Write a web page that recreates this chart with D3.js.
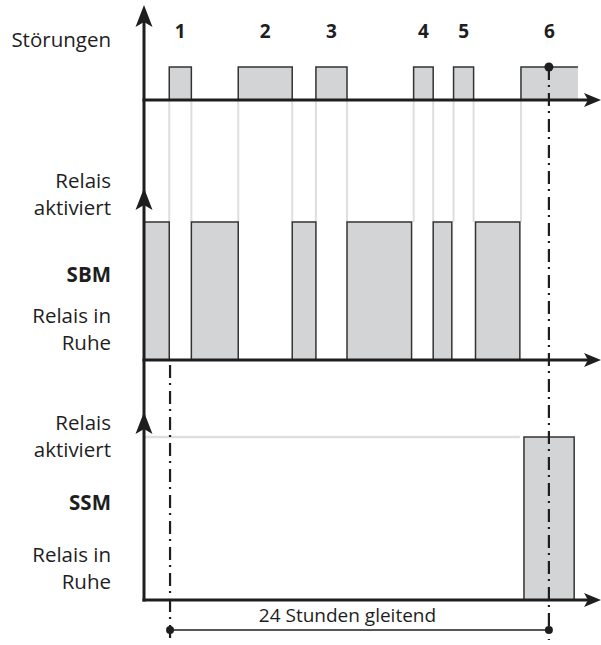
<!DOCTYPE html>
<html>
<head>
<meta charset="utf-8">
<script src="https://cdn.jsdelivr.net/npm/d3@7"></script>
<style>
  body { margin: 0; background: #fff; }
  text { font-family: 'Open Sans', sans-serif; fill: #1e1e1e; }
</style>
</head>
<body>
<div id="chart"></div>
<script>
// time axis in arbitrary units (hours-ish), 0 = y axis
const stoerungen = [
  { id: '1', start: 1.6, end: 3.0 },
  { id: '2', start: 5.97, end: 9.39 },
  { id: '3', start: 10.89, end: 12.86 },
  { id: '4', start: 17.08, end: 18.32 },
  { id: '5', start: 19.61, end: 20.88 },
  { id: '6', start: 23.88, end: 27.49 }
]
const sbmActive = [
  [0, 1.6], [3.0, 5.97], [9.39, 10.89], [12.86, 16.95], [18.32, 19.5], [21.0, 23.81]
]
const ssmActive = [[24.07, 27.25]]
const ssmIdleLine = [0, 23.81]
const window24 = [1.65, 25.65]
const windowLabel = '24 Stunden gleitend'

const panelLabels = [
  { lines: ['Störungen'], y: 47, bold: false },
  { lines: ['Relais', 'aktiviert'], y: 188, bold: false },
  { lines: ['SBM'], y: 282, bold: true },
  { lines: ['Relais in', 'Ruhe'], y: 323, bold: false },
  { lines: ['Relais', 'aktiviert'], y: 430, bold: false },
  { lines: ['SSM'], y: 510, bold: true },
  { lines: ['Relais in', 'Ruhe'], y: 562, bold: false }
]

const width = 601
const height = 645

const svg = d3
  .select('#chart')
  .append('svg')
  .attr('width', width)
  .attr('height', height)

const x = d3.scaleLinear().domain([0, 28]).range([144, 586])

// each panel: level 0 -> baseline, level 1 -> top of the boxes
const yTop = d3.scaleLinear().domain([0, 1]).range([100, 67])
const ySbm = d3.scaleLinear().domain([0, 1]).range([360, 222])
const ySsm = d3.scaleLinear().domain([0, 1]).range([600, 437])

const dark = '#1e1e1e'
const fill = '#d3d4d6'
const connector = '#dedede'

// light connectors from disturbance edges to SBM boxes
const edges = []
stoerungen.forEach(function(d, i) {
  edges.push(d.start)
  if (i < stoerungen.length - 1) edges.push(d.end)
})
svg
  .selectAll('.conn')
  .data(edges)
  .enter()
  .append('line')
  .attr('class', 'conn')
  .attr('x1', d => x(d))
  .attr('x2', d => x(d))
  .attr('y1', yTop(0))
  .attr('y2', ySbm(1))
  .attr('stroke', connector)
  .attr('stroke-width', 2)

// SSM idle gray line
svg
  .append('line')
  .attr('x1', x(ssmIdleLine[0]))
  .attr('x2', x(ssmIdleLine[1]))
  .attr('y1', ySsm(1))
  .attr('y2', ySsm(1))
  .attr('stroke', connector)
  .attr('stroke-width', 2.5)

// disturbance boxes (open at bottom, last one without right border)
stoerungen.forEach(function(d, i) {
  svg
    .append('rect')
    .attr('x', x(d.start))
    .attr('y', yTop(1))
    .attr('width', x(d.end) - x(d.start))
    .attr('height', yTop(0) - yTop(1))
    .attr('fill', fill)
  const last = i === stoerungen.length - 1
  const p = d3.path()
  p.moveTo(x(d.start), yTop(0))
  p.lineTo(x(d.start), yTop(1))
  p.lineTo(x(d.end), yTop(1))
  if (!last) p.lineTo(x(d.end), yTop(0))
  svg
    .append('path')
    .attr('d', p.toString())
    .attr('fill', 'none')
    .attr('stroke', '#333')
    .attr('stroke-width', 1.5)
  svg
    .append('text')
    .attr('x', x((d.start + d.end) / 2))
    .attr('y', 38)
    .attr('text-anchor', 'middle')
    .attr('font-weight', 'bold')
    .attr('font-size', 19)
    .text(d.id)
})

function drawBoxes(data, y) {
  svg
    .append('g')
    .selectAll('rect')
    .data(data)
    .enter()
    .append('rect')
    .attr('x', d => x(d[0]))
    .attr('y', y(1))
    .attr('width', d => x(d[1]) - x(d[0]))
    .attr('height', y(0) - y(1))
    .attr('fill', fill)
    .attr('stroke', '#333')
    .attr('stroke-width', 1.5)
}
drawBoxes(sbmActive, ySbm)
drawBoxes(ssmActive, ySsm)

// dash-dot lines marking the window
const dashDot = '13,5,2,6'
svg
  .append('line')
  .attr('x1', x(window24[0]))
  .attr('x2', x(window24[0]))
  .attr('y1', ySbm(0) + 5)
  .attr('y2', 640)
  .attr('stroke', dark)
  .attr('stroke-width', 2.2)
  .attr('stroke-dasharray', dashDot)
svg
  .append('line')
  .attr('x1', x(window24[1]))
  .attr('x2', x(window24[1]))
  .attr('y1', yTop(1))
  .attr('y2', 640)
  .attr('stroke', dark)
  .attr('stroke-width', 2.2)
  .attr('stroke-dasharray', dashDot)

// window bracket
svg
  .append('line')
  .attr('x1', x(window24[0]))
  .attr('x2', x(window24[1]))
  .attr('y1', 630)
  .attr('y2', 630)
  .attr('stroke', dark)
  .attr('stroke-width', 1.5)
svg
  .selectAll('.wdot')
  .data(window24)
  .enter()
  .append('circle')
  .attr('cx', d => x(d))
  .attr('cy', 630)
  .attr('r', 4)
  .attr('fill', dark)
svg
  .append('circle')
  .attr('cx', x(window24[1]))
  .attr('cy', yTop(1))
  .attr('r', 4.5)
  .attr('fill', dark)
svg
  .append('text')
  .attr('x', x((window24[0] + window24[1]) / 2) - 12)
  .attr('y', 622)
  .attr('text-anchor', 'middle')
  .attr('font-size', 19)
  .text(windowLabel)

// axes
const ax = x(0)
svg
  .append('line')
  .attr('x1', ax)
  .attr('x2', ax)
  .attr('y1', 20)
  .attr('y2', ySsm(0) + 1.5)
  .attr('stroke', dark)
  .attr('stroke-width', 3)

;[yTop, ySbm, ySsm].forEach(function(y) {
  svg
    .append('line')
    .attr('x1', ax - 1.5)
    .attr('x2', 590)
    .attr('y1', y(0))
    .attr('y2', y(0))
    .attr('stroke', dark)
    .attr('stroke-width', 3)
  // right arrowhead
  const y0 = y(0)
  svg
    .append('path')
    .attr('d', `M601,${y0} L584,${y0 - 7} L588,${y0} L584,${y0 + 7} Z`)
    .attr('fill', dark)
})

// up arrowheads on the y axis
;[5, 188, 412].forEach(function(tip) {
  svg
    .append('path')
    .attr('d', `M${ax},${tip} L${ax + 8.5},${tip + 22} L${ax},${tip + 17} L${ax - 8.5},${tip + 22} Z`)
    .attr('fill', dark)
})

// left labels
panelLabels.forEach(function(l) {
  const t = svg
    .append('text')
    .attr('x', 111)
    .attr('y', l.y)
    .attr('text-anchor', 'end')
    .attr('font-size', 20.5)
    .attr('font-weight', l.bold ? 'bold' : 'normal')
  l.lines.forEach(function(s, i) {
    t.append('tspan')
      .attr('x', 111)
      .attr('dy', i === 0 ? 0 : 27)
      .text(s)
  })
})
</script>
</body>
</html>
